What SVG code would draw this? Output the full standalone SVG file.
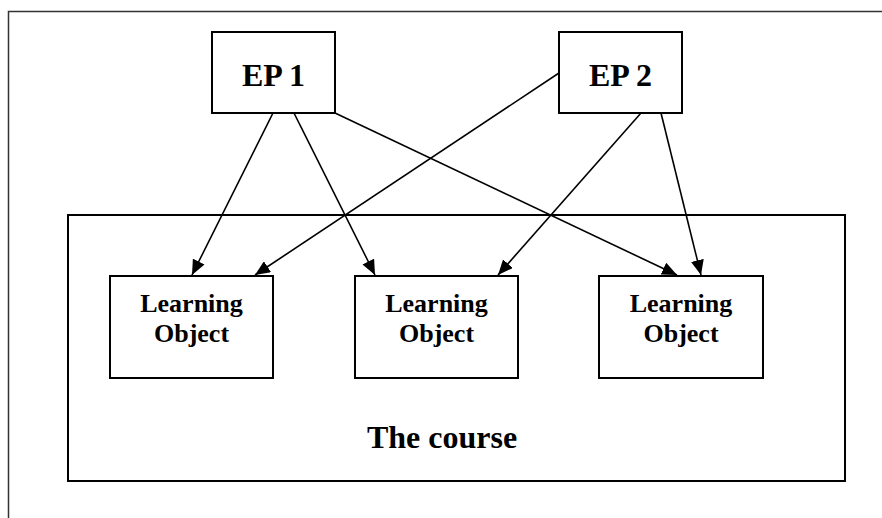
<svg xmlns="http://www.w3.org/2000/svg" width="882" height="518" viewBox="0 0 882 518">
<style>
.box{fill:#fff;stroke:#000;stroke-width:2}
.frame{fill:none;stroke:#333;stroke-width:1.5}
.lbl{font-family:"Liberation Serif","Times New Roman",serif;font-weight:bold;fill:#000;text-anchor:middle}
.ep{font-size:32px}
.lo{font-size:26px}
.edge{stroke:#000;stroke-width:1.6;fill:none;marker-end:url(#arr)}
</style>
<defs>
<marker id="arr" markerUnits="userSpaceOnUse" markerWidth="15" markerHeight="13" viewBox="0 0 15 13" refX="15" refY="6.5" orient="auto">
<path d="M0,0 L15,6.5 L0,13 Z" fill="#000"/>
</marker>
</defs>
<rect width="882" height="518" fill="#fff"/>
<path class="frame" d="M8.5,518 V11.5 H882"/>
<g id="course">
<rect class="box" x="68" y="215" width="777" height="266"/>
<text class="lbl ep" x="442" y="448">The course</text>
</g>
<g id="lo1">
<rect class="box" x="110" y="276" width="163" height="102"/>
<text class="lbl lo" x="191.5" y="312">Learning</text>
<text class="lbl lo" x="191.5" y="342">Object</text>
</g>
<g id="lo2">
<rect class="box" x="355" y="276" width="163" height="102"/>
<text class="lbl lo" x="436.5" y="312">Learning</text>
<text class="lbl lo" x="436.5" y="342">Object</text>
</g>
<g id="lo3">
<rect class="box" x="599" y="276" width="164" height="102"/>
<text class="lbl lo" x="681" y="312">Learning</text>
<text class="lbl lo" x="681" y="342">Object</text>
</g>
<g id="ep1">
<rect class="box" x="212" y="32" width="123" height="81"/>
<text class="lbl ep" x="273.5" y="86">EP 1</text>
</g>
<g id="ep2">
<rect class="box" x="559" y="32" width="123" height="81"/>
<text class="lbl ep" x="620.5" y="86">EP 2</text>
</g>
<g id="connectors">
<line class="edge" x1="273" y1="113" x2="192" y2="275"/>
<line class="edge" x1="294" y1="113" x2="375" y2="275"/>
<line class="edge" x1="335" y1="113" x2="677" y2="275"/>
<line class="edge" x1="559" y1="73" x2="255" y2="275"/>
<line class="edge" x1="641" y1="113" x2="498" y2="275"/>
<line class="edge" x1="661" y1="113" x2="701" y2="275"/>
</g>
</svg>
